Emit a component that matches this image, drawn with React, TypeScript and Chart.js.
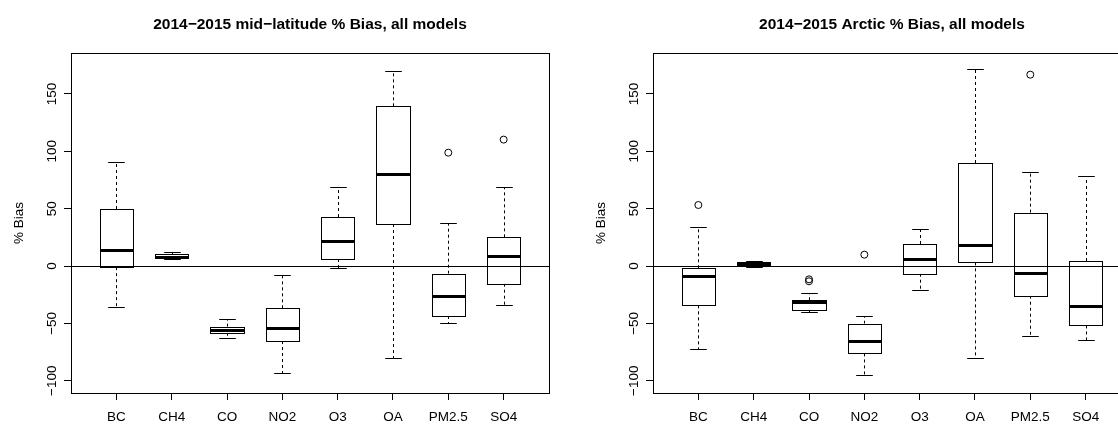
import { useEffect, useRef } from "react";
import { Chart, registerables } from "chart.js";

Chart.register(...registerables);

const categories = ["BC", "CH4", "CO", "NO2", "O3", "OA", "PM2.5", "SO4"];
const yTickValues = [-100, -50, 0, 50, 100, 150];
const yAxisTitle = "% Bias";

const midTitle = "2014\u22122015 mid\u2212latitude % Bias, all models";
const midMin = [-35.5, 6, -62.5, -93, -2, -80, -50, -33.7];
const midQ1 = [-1, 6.6, -58.2, -65.4, 6.1, 36.6, -43.6, -15.4];
const midMedian = [14, 8, -55.8, -53.8, 22.1, 80.2, -26.2, 9];
const midQ3 = [49.7, 10.2, -52.9, -36.9, 42.7, 139.2, -6.7, 25];
const midMax = [90.9, 11.9, -46, -7.8, 69.2, 170, 37.8, 69.2];
const midOutlierCats = ["PM2.5", "SO4"];
const midOutlierValues = [98.8, 110.2];

const arcTitle = "2014\u22122015 Arctic % Bias, all models";
const arcMin = [-72.4, -0.5, -40.4, -95.3, -20.6, -80.2, -61, -64.8];
const arcQ1 = [-34.3, 0, -38.4, -76.2, -6.7, 3.2, -25.9, -51.8];
const arcMedian = [-8.7, 1.5, -31.7, -65.1, 6.1, 18, -6.1, -34.6];
const arcQ3 = [-2, 3.2, -29.9, -50.3, 19.2, 89.8, 46.5, 4.4];
const arcMax = [34, 4.1, -23.3, -43.3, 32, 171.8, 82.2, 78.8];
const arcOutlierCats = ["BC", "CO", "CO", "NO2", "PM2.5"];
const arcOutlierValues = [53.2, -11.6, -13.3, 9.9, 166.8];

const FAMILY = "'Liberation Sans', Arial, Helvetica, sans-serif";

type Props = {
  title: string;
  min: number[];
  q1: number[];
  median: number[];
  q3: number[];
  max: number[];
  outlierCats: string[];
  outlierValues: number[];
  left: number;
};

function BoxChart(props: Props) {
  const ref = useRef<HTMLCanvasElement | null>(null);

  useEffect(() => {
    const canvas = ref.current;
    if (!canvas) return;
    const { title, min, q1, median, q3, max, outlierCats, outlierValues } = props;

    const crisp = (v: number) => Math.round(v) + 0.5;

    const boxPlugin = {
      id: "boxwhiskers",
      beforeDatasetsDraw(chart: any) {
        const { ctx, chartArea, scales } = chart;
        const x = scales.x;
        const y = scales.y;
        const meta = chart.getDatasetMeta(0);
        ctx.save();
        ctx.beginPath();
        ctx.rect(chartArea.left, chartArea.top, chartArea.right - chartArea.left, chartArea.bottom - chartArea.top);
        ctx.clip();
        ctx.strokeStyle = "#000";
        ctx.lineWidth = 1;
        categories.forEach((_c, i) => {
          const bar = meta.data[i];
          const cx = crisp(x.getPixelForValue(i + 1));
          const capHalf = bar.width / 4;
          const yMax = crisp(y.getPixelForValue(max[i]));
          const yMin = crisp(y.getPixelForValue(min[i]));
          const yQ1 = y.getPixelForValue(q1[i]);
          const yQ3 = y.getPixelForValue(q3[i]);
          ctx.setLineDash([3, 3]);
          ctx.beginPath();
          ctx.moveTo(cx, yQ3);
          ctx.lineTo(cx, yMax);
          ctx.moveTo(cx, yQ1);
          ctx.lineTo(cx, yMin);
          ctx.stroke();
          ctx.setLineDash([]);
          ctx.beginPath();
          ctx.moveTo(cx - capHalf, yMax);
          ctx.lineTo(cx + capHalf, yMax);
          ctx.moveTo(cx - capHalf, yMin);
          ctx.lineTo(cx + capHalf, yMin);
          ctx.stroke();
        });
        ctx.restore();
      },
      afterDatasetsDraw(chart: any) {
        const { ctx, chartArea, scales } = chart;
        const y = scales.y;
        const meta = chart.getDatasetMeta(0);
        ctx.save();
        ctx.beginPath();
        ctx.rect(chartArea.left, chartArea.top, chartArea.right - chartArea.left, chartArea.bottom - chartArea.top);
        ctx.clip();
        ctx.strokeStyle = "#000";
        // box outlines
        ctx.lineWidth = 1;
        categories.forEach((_c, i) => {
          const bar = meta.data[i];
          const l = crisp(bar.x - bar.width / 2);
          const r = crisp(bar.x + bar.width / 2);
          const t = crisp(y.getPixelForValue(q3[i]));
          const b = crisp(y.getPixelForValue(q1[i]));
          ctx.strokeRect(l, t, r - l, b - t);
        });
        // medians
        ctx.lineWidth = 3;
        ctx.lineCap = "butt";
        categories.forEach((_c, i) => {
          const bar = meta.data[i];
          const ym = crisp(y.getPixelForValue(median[i]));
          ctx.beginPath();
          ctx.moveTo(crisp(bar.x - bar.width / 2) - 0.5, ym);
          ctx.lineTo(crisp(bar.x + bar.width / 2) + 0.5, ym);
          ctx.stroke();
        });
        // zero reference line
        ctx.lineWidth = 1;
        const y0 = crisp(y.getPixelForValue(0));
        ctx.beginPath();
        ctx.moveTo(chartArea.left, y0);
        ctx.lineTo(chartArea.right, y0);
        ctx.stroke();
        ctx.restore();
        // frame
        ctx.save();
        ctx.strokeStyle = "#000";
        ctx.lineWidth = 1;
        const l = crisp(chartArea.left);
        const t = crisp(chartArea.top);
        const r = crisp(chartArea.right);
        const b = crisp(chartArea.bottom);
        ctx.strokeRect(l, t, r - l, b - t);
        ctx.restore();
      },
    };

    const tickGrid = {
      display: true,
      offset: false,
      drawOnChartArea: false,
      drawTicks: true,
      tickLength: 7,
      color: "#000",
      tickColor: "#000",
      tickWidth: 1,
    };

    const chart = new Chart(canvas, {
      type: "bar",
      data: {
        datasets: [
          {
            type: "bar",
            data: categories.map((_c, i) => ({ x: i + 1, y: [q1[i], q3[i]] })) as any,
            backgroundColor: "#fff",
            borderColor: "#000",
            borderWidth: 0,
            borderSkipped: false,
            barPercentage: 0.6,
            categoryPercentage: 1,
            order: 2,
          } as any,
          {
            type: "scatter",
            data: outlierCats.map((c, i) => ({ x: categories.indexOf(c) + 1, y: outlierValues[i] })),
            pointStyle: "circle",
            pointRadius: 3.5,
            borderColor: "#000",
            backgroundColor: "rgba(0,0,0,0)",
            borderWidth: 1,
            order: 1,
          } as any,
        ],
      },
      options: {
        animation: false,
        responsive: false,
        maintainAspectRatio: false,
        layout: { padding: { left: 0, right: 0, top: 0, bottom: 0 } },
        plugins: {
          legend: { display: false },
          tooltip: { enabled: false },
          title: {
            display: true,
            text: title,
            color: "#000",
            font: { size: 15.5, weight: "bold", family: FAMILY },
            padding: { top: 15, bottom: 19.4 },
          },
        },
        scales: {
          x: {
            type: "linear",
            min: 0.18,
            max: 8.82,
            offset: false,
            afterBuildTicks: (s: any) => {
              s.ticks = categories.map((_c, i) => ({ value: i + 1 }));
            },
            afterFit: (s: any) => {
              s.height = 33;
            },
            ticks: {
              autoSkip: false,
              minRotation: 0,
              maxRotation: 0,
              padding: 9,
              color: "#000",
              font: { size: 13.5, family: FAMILY },
              callback: (_v: any, i: number) => categories[i],
            },
            grid: tickGrid,
            border: { display: false },
          },
          y: {
            type: "linear",
            position: "left",
            min: -110.7,
            max: 185.7,
            afterBuildTicks: (s: any) => {
              s.ticks = yTickValues.map((v) => ({ value: v }));
            },
            afterFit: (s: any) => {
              s.width = 71;
            },
            ticks: {
              minRotation: 90,
              maxRotation: 90,
              crossAlign: "center",
              padding: -3,
              color: "#000",
              font: { size: 13.5, family: FAMILY },
              callback: (v: any) => String(v).replace("-", "\u2212"),
            },
            grid: tickGrid,
            border: { display: false },
            title: {
              display: true,
              text: yAxisTitle,
              color: "#000",
              font: { size: 13.5, family: FAMILY },
              padding: { top: 11, bottom: 0 },
            },
          },
          yR: {
            type: "linear",
            position: "right",
            display: true,
            ticks: { display: false },
            grid: { display: false },
            border: { display: false },
            afterFit: (s: any) => {
              s.width = 71;
            },
          },
        },
      } as any,
      plugins: [boxPlugin],
    });

    return () => chart.destroy();
  }, []);

  return (
    <canvas
      ref={ref}
      width={620}
      height={426}
      style={{ position: "absolute", left: props.left, top: 0, width: 620, height: 426 }}
    />
  );
}

export default function App() {
  return (
    <div
      style={{
        position: "fixed",
        left: 0,
        top: 0,
        width: 1118,
        height: 426,
        overflow: "hidden",
        background: "#fff",
      }}
    >
      <BoxChart
        title={midTitle}
        min={midMin}
        q1={midQ1}
        median={midMedian}
        q3={midQ3}
        max={midMax}
        outlierCats={midOutlierCats}
        outlierValues={midOutlierValues}
        left={0}
      />
      <BoxChart
        title={arcTitle}
        min={arcMin}
        q1={arcQ1}
        median={arcMedian}
        q3={arcQ3}
        max={arcMax}
        outlierCats={arcOutlierCats}
        outlierValues={arcOutlierValues}
        left={582}
      />
    </div>
  );
}
